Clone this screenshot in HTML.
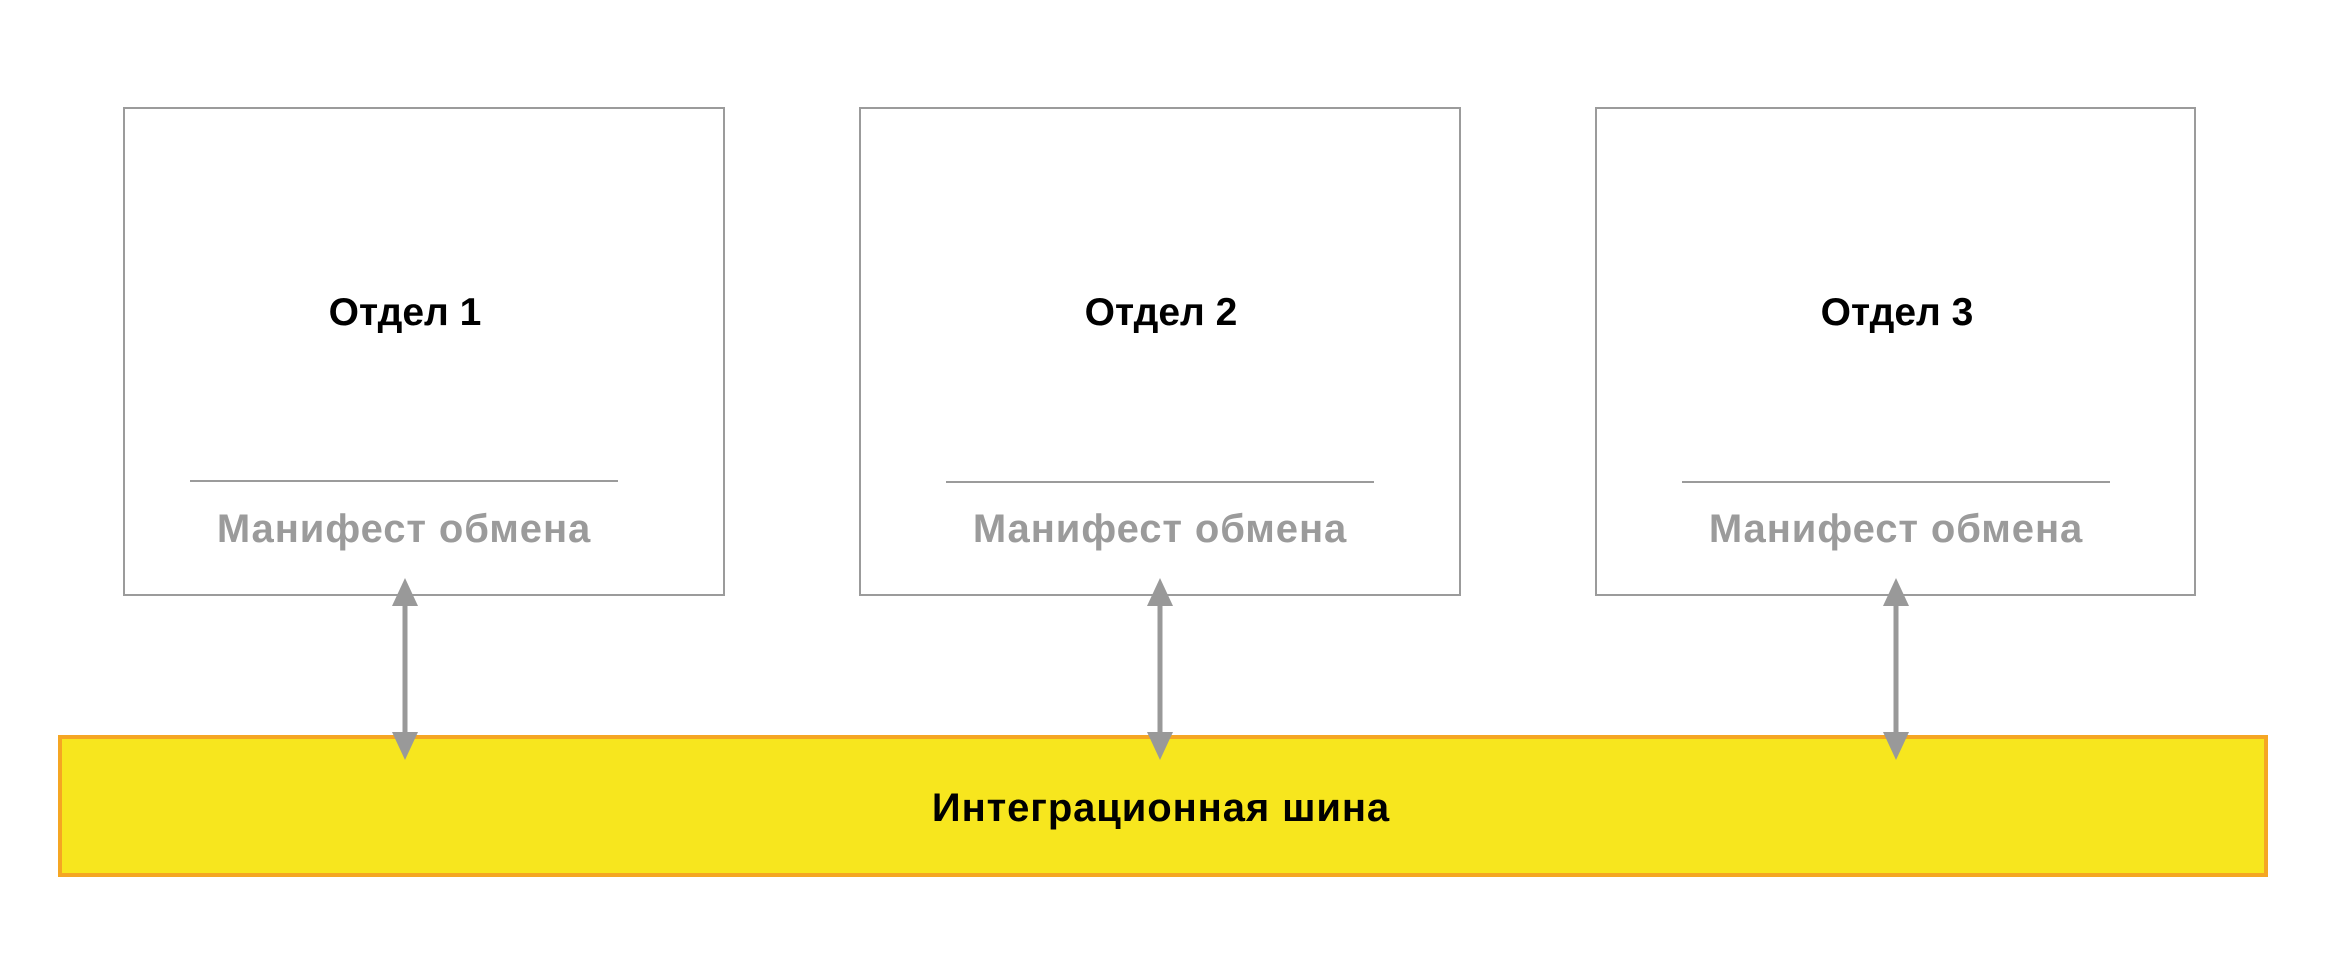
<!DOCTYPE html>
<html><head><meta charset="utf-8"><style>
html,body{margin:0;padding:0;background:#fff;}
svg{display:block}
</style></head><body>
<svg width="2326" height="956" viewBox="0 0 2326 956" xmlns="http://www.w3.org/2000/svg" font-family="'Liberation Sans', sans-serif" font-weight="bold" text-anchor="middle">
<rect x="0" y="0" width="2326" height="956" fill="#fff"/>
<g fill="#fff" stroke="#9b9b9b" stroke-width="2">
<rect x="124" y="108" width="600" height="487"/>
<rect x="860" y="108" width="600" height="487"/>
<rect x="1596" y="108" width="599" height="487"/>
</g>
<g stroke="#9b9b9b" stroke-width="2">
<line x1="190" y1="481" x2="618" y2="481"/>
<line x1="946" y1="482" x2="1374" y2="482"/>
<line x1="1682" y1="482" x2="2110" y2="482"/>
</g>
<g font-size="39" fill="#000">
<text x="405" y="325">Отдел 1</text>
<text x="1161" y="325">Отдел 2</text>
<text x="1897" y="325">Отдел 3</text>
</g>
<g font-size="40" fill="#9b9b9b" letter-spacing="0.9">
<text x="404" y="542">Манифест обмена</text>
<text x="1160" y="542">Манифест обмена</text>
<text x="1896" y="542">Манифест обмена</text>
</g>
<rect x="60" y="737" width="2206" height="138" fill="#f7e61e" stroke="#f5a623" stroke-width="4"/>
<text x="1161" y="821" font-size="40" fill="#000" letter-spacing="0.9">Интеграционная шина</text>
<g fill="#999" stroke="#999">
<line x1="405" y1="600" x2="405" y2="740" stroke-width="5"/>
<polygon points="405,578 392,606 418,606" stroke="none"/>
<polygon points="405,760 392,732 418,732" stroke="none"/>
<line x1="1160" y1="600" x2="1160" y2="740" stroke-width="5"/>
<polygon points="1160,578 1147,606 1173,606" stroke="none"/>
<polygon points="1160,760 1147,732 1173,732" stroke="none"/>
<line x1="1896" y1="600" x2="1896" y2="740" stroke-width="5"/>
<polygon points="1896,578 1883,606 1909,606" stroke="none"/>
<polygon points="1896,760 1883,732 1909,732" stroke="none"/>
</g>
</svg>
</body></html>
